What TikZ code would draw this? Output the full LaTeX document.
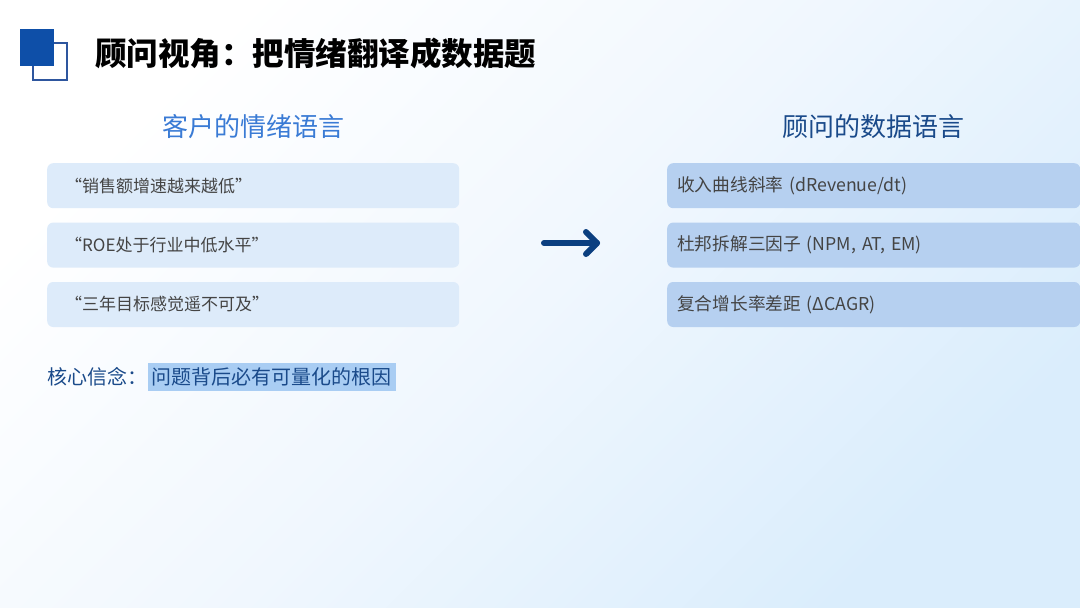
\documentclass[tikz,border=0pt]{standalone}
\usepackage{fontspec}
\setmainfont{Noto Sans CJK SC}
\usetikzlibrary{positioning, calc}
\definecolor{iconblue}{RGB}{14, 79, 168}
\definecolor{iconline}{RGB}{46, 86, 158}
\definecolor{headblue}{RGB}{58, 123, 213}
\definecolor{navyblue}{RGB}{26, 74, 138}
\definecolor{arrowblue}{RGB}{11, 63, 128}
\definecolor{bgblue}{RGB}{218, 237, 252}
\definecolor{bgmid}{RGB}{240, 247, 254}
\definecolor{clientfill}{RGB}{221, 235, 250}
\definecolor{datafill}{RGB}{182, 208, 240}
\definecolor{markfill}{RGB}{169, 205, 243}
\definecolor{textgray}{RGB}{68, 68, 68}

\tikzset{
  clientbox/.style={fill=clientfill, rounded corners=6pt, text width=376pt, align=left,
                    inner xsep=18pt, inner ysep=0pt, minimum height=45pt, text=textgray,
                    font=\fontsize{17}{20}\selectfont},
  databox/.style={fill=datafill, rounded corners=6pt, text width=393pt, align=left,
                  inner xsep=10pt, inner ysep=0pt, minimum height=45pt, text=textgray,
                  font=\fontsize{17.7}{21}\selectfont},
  colhead/.style={font=\fontsize{26}{30}\selectfont},
  arrowstroke/.style={draw=arrowblue, line width=6pt, line cap=round, line join=round}
}

\begin{document}
\begin{tikzpicture}[x=1pt, y=-1pt]
  \useasboundingbox (0,0) rectangle (1080,608);
  \shade[top color=white, bottom color=bgblue, middle color=bgmid, shading angle=45]
        (0,0) rectangle (1080,608);

  % title bar
  \draw[iconline, line width=2pt] (33,43) rectangle (67,80);
  \fill[iconblue] (20,29) rectangle (54,66);
  \node[anchor=west, inner sep=0pt, font=\fontsize{31.5}{36}\selectfont\bfseries] (title) at (95,53)
    {顾问视角：把情绪翻译成数据题};

  % client side
  \node[colhead, text=headblue] (clienthead) at (253,127) {客户的情绪语言};
  \node[clientbox, anchor=north west] (clientA) at (47,163) {“销售额增速越来越低”};
  \node[clientbox, below=14pt of clientA] (clientB) {“ROE处于行业中低水平”};
  \node[clientbox, below=14pt of clientB] (clientC) {“三年目标感觉遥不可及”};

  % consultant side
  \node[colhead, text=navyblue] (datahead) at (873,127) {顾问的数据语言};
  \node[databox, anchor=north west] (dataA) at (667,163) {收入曲线斜率 (dRevenue/dt)};
  \node[databox, below=14pt of dataA] (dataB) {杜邦拆解三因子 (NPM, AT, EM)};
  \node[databox, below=14pt of dataB] (dataC) {复合增长率差距 (ΔCAGR)};

  % arrow
  \coordinate (arrowtail) at (544,243);
  \coordinate (arrowtip) at (597,243);
  \draw[arrowstroke] (arrowtail) -- (arrowtip);
  \draw[arrowstroke] ($(arrowtip)+(-11,-11)$) -- (arrowtip) -- ($(arrowtip)+(-11,11)$);

  % core belief
  \node[anchor=west, inner sep=0pt, text=navyblue, font=\fontsize{20}{24}\selectfont]
    (belieflabel) at (47,377) {核心信念：};
  \node[right=0pt of belieflabel, fill=markfill, inner xsep=4pt, inner ysep=4.5pt,
        text=navyblue, font=\fontsize{20}{24}\selectfont] (beliefmark) {问题背后必有可量化的根因};
\end{tikzpicture}
\end{document}
